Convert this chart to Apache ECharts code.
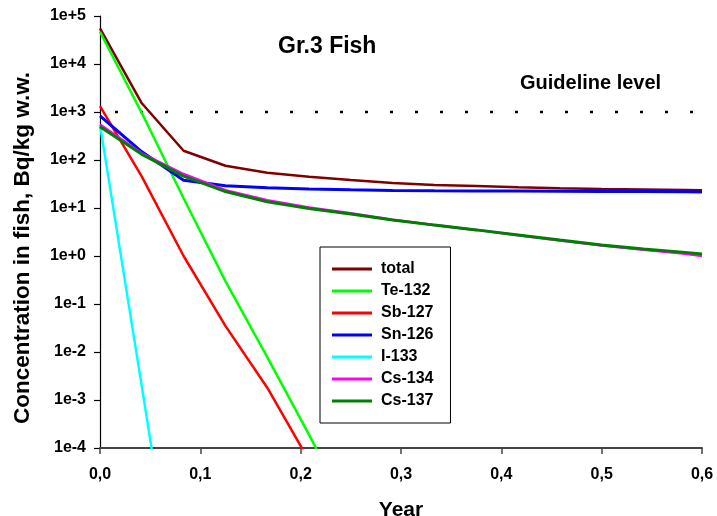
<!DOCTYPE html>
<html>
<head>
<meta charset="utf-8">
<script src="https://cdn.jsdelivr.net/npm/echarts@6/dist/echarts.min.js"></script>
<style>
html,body{margin:0;padding:0;background:#fff;overflow:hidden;}
#chart{width:717px;height:516px;}
</style>
</head>
<body>
<div id="chart"></div>
<script>
// Time points (years)
const years = [0, 0.0417, 0.0833, 0.125, 0.1667, 0.2083, 0.25, 0.2917, 0.3333, 0.375, 0.4167, 0.4583, 0.5, 0.5417, 0.5833, 0.6];

// Concentrations, Bq/kg w.w.
const total  = [55000, 1520, 156, 76, 54, 45, 38.3, 33, 30.3, 28.8, 27.2, 25.9, 25.0, 24.3, 23.7, 23.4];
const te132  = [47000, 950, 16, 0.3, 0.0078, 0.00019, 0.000004];
const sb127  = [1330, 45, 1.0, 0.035, 0.0018, 0.000055];
const sn126  = [830, 148, 38, 29, 26.5, 25, 24, 23.2, 22.9, 22.7, 22.5, 22.3, 22.1, 22.0, 21.8, 21.6];
const i133   = [540, 0.0019, 0.000000006];
const cs134  = [550, 138, 51, 23.5, 14.5, 10.3, 7.8, 5.7, 4.4, 3.5, 2.7, 2.1, 1.65, 1.35, 1.12, 1.0];
const cs137  = [490, 131, 46, 22, 13.5, 9.8, 7.5, 5.6, 4.4, 3.5, 2.75, 2.15, 1.7, 1.4, 1.19, 1.1];

const guidelineLevel = 1000;

const seriesNames  = ['total', 'Te-132', 'Sb-127', 'Sn-126', 'I-133', 'Cs-134', 'Cs-137'];
const seriesColors = ['#800000', '#00FF00', '#FF0000', '#0000FF', '#00FFFF', '#FF00FF', '#008000'];
const seriesWidths = [2.5, 2.5, 2.5, 3, 2.5, 2.5, 3];
const seriesValues = [total, te132, sb127, sn126, i133, cs134, cs137];

const xTickLabels = ['0,0', '0,1', '0,2', '0,3', '0,4', '0,5', '0,6'];
const yTickLabels = ['1e-4', '1e-3', '1e-2', '1e-1', '1e+0', '1e+1', '1e+2', '1e+3', '1e+4', '1e+5'];

const FONT = 'Arial, "Liberation Sans", sans-serif';

const chart = echarts.init(document.getElementById('chart'), null, {renderer: 'canvas', width: 717, height: 516});

const series = seriesNames.map((name, i) => ({
  name: name,
  type: 'line',
  data: seriesValues[i].map((v, k) => [years[k], v]),
  showSymbol: false,
  symbol: 'none',
  clip: true,
  color: seriesColors[i],
  lineStyle: {color: seriesColors[i], width: seriesWidths[i]},
  z: 3 + i
}));

series.unshift({
  name: 'Guideline',
  type: 'line',
  data: [[0, guidelineLevel], [0.6, guidelineLevel]],
  showSymbol: false,
  symbol: 'none',
  lineStyle: {color: '#000', width: 2.5, type: [3, 22], dashOffset: 10},
  z: 2,
  silent: true
});

chart.setOption({
  animation: false,
  backgroundColor: '#fff',
  grid: {left: 100, width: 602, top: 16, height: 432, containLabel: false, outerBoundsMode: 'none'},
  graphic: [
    {type: 'text', left: 278, top: 35, style: {text: 'Gr.3 Fish', font: 'bold 23px ' + FONT, fill: '#000'}},
    {type: 'text', left: 520, top: 73, style: {text: 'Guideline level', font: 'bold 20px ' + FONT, fill: '#000'}},
    {type: 'text', x: 23, y: 248, rotation: Math.PI / 2,
     style: {text: 'Concentration in fish, Bq/kg w.w.', font: 'bold 22.5px ' + FONT, fill: '#000', align: 'center', verticalAlign: 'middle'}}
  ],
  legend: {
    data: seriesNames,
    orient: 'vertical',
    left: 320,
    top: 247,
    padding: [14, 17, 14, 12],
    itemGap: 6,
    itemWidth: 40,
    itemHeight: 3,
    icon: 'rect',
    borderColor: '#000',
    borderWidth: 1,
    borderRadius: 0,
    backgroundColor: '#fff',
    textStyle: {fontFamily: FONT, fontWeight: 'bold', fontSize: 16, color: '#000', lineHeight: 16, padding: [0, 0, 0, 4]}
  },
  xAxis: {
    type: 'value',
    min: 0,
    max: 0.6,
    interval: 0.1,
    name: 'Year',
    nameLocation: 'middle',
    nameGap: 52,
    nameTextStyle: {fontFamily: FONT, fontWeight: 'bold', fontSize: 21, color: '#000'},
    axisLine: {show: true, onZero: false, lineStyle: {color: '#444', width: 2}},
    axisTick: {show: true, inside: false, length: 6, lineStyle: {color: '#444', width: 1.5}},
    axisLabel: {
      margin: 19,
      fontFamily: FONT, fontWeight: 'bold', fontSize: 16, color: '#000',
      formatter: v => xTickLabels[Math.round(v * 10)]
    },
    splitLine: {show: false}
  },
  yAxis: {
    type: 'log',
    logBase: 10,
    min: 1e-4,
    max: 1e5,
    splitNumber: 9,
    axisLine: {show: true, lineStyle: {color: '#000', width: 1.2}},
    axisTick: {show: true, inside: false, length: 6, lineStyle: {color: '#000', width: 1.2}},
    axisLabel: {
      margin: 14,
      fontFamily: FONT, fontWeight: 'bold', fontSize: 16, color: '#000',
      formatter: v => {
        const e = Math.round(Math.log10(v));
        return yTickLabels[e + 4] || '';
      }
    },
    splitLine: {show: false}
  },
  series: series
});
</script>
</body>
</html>
